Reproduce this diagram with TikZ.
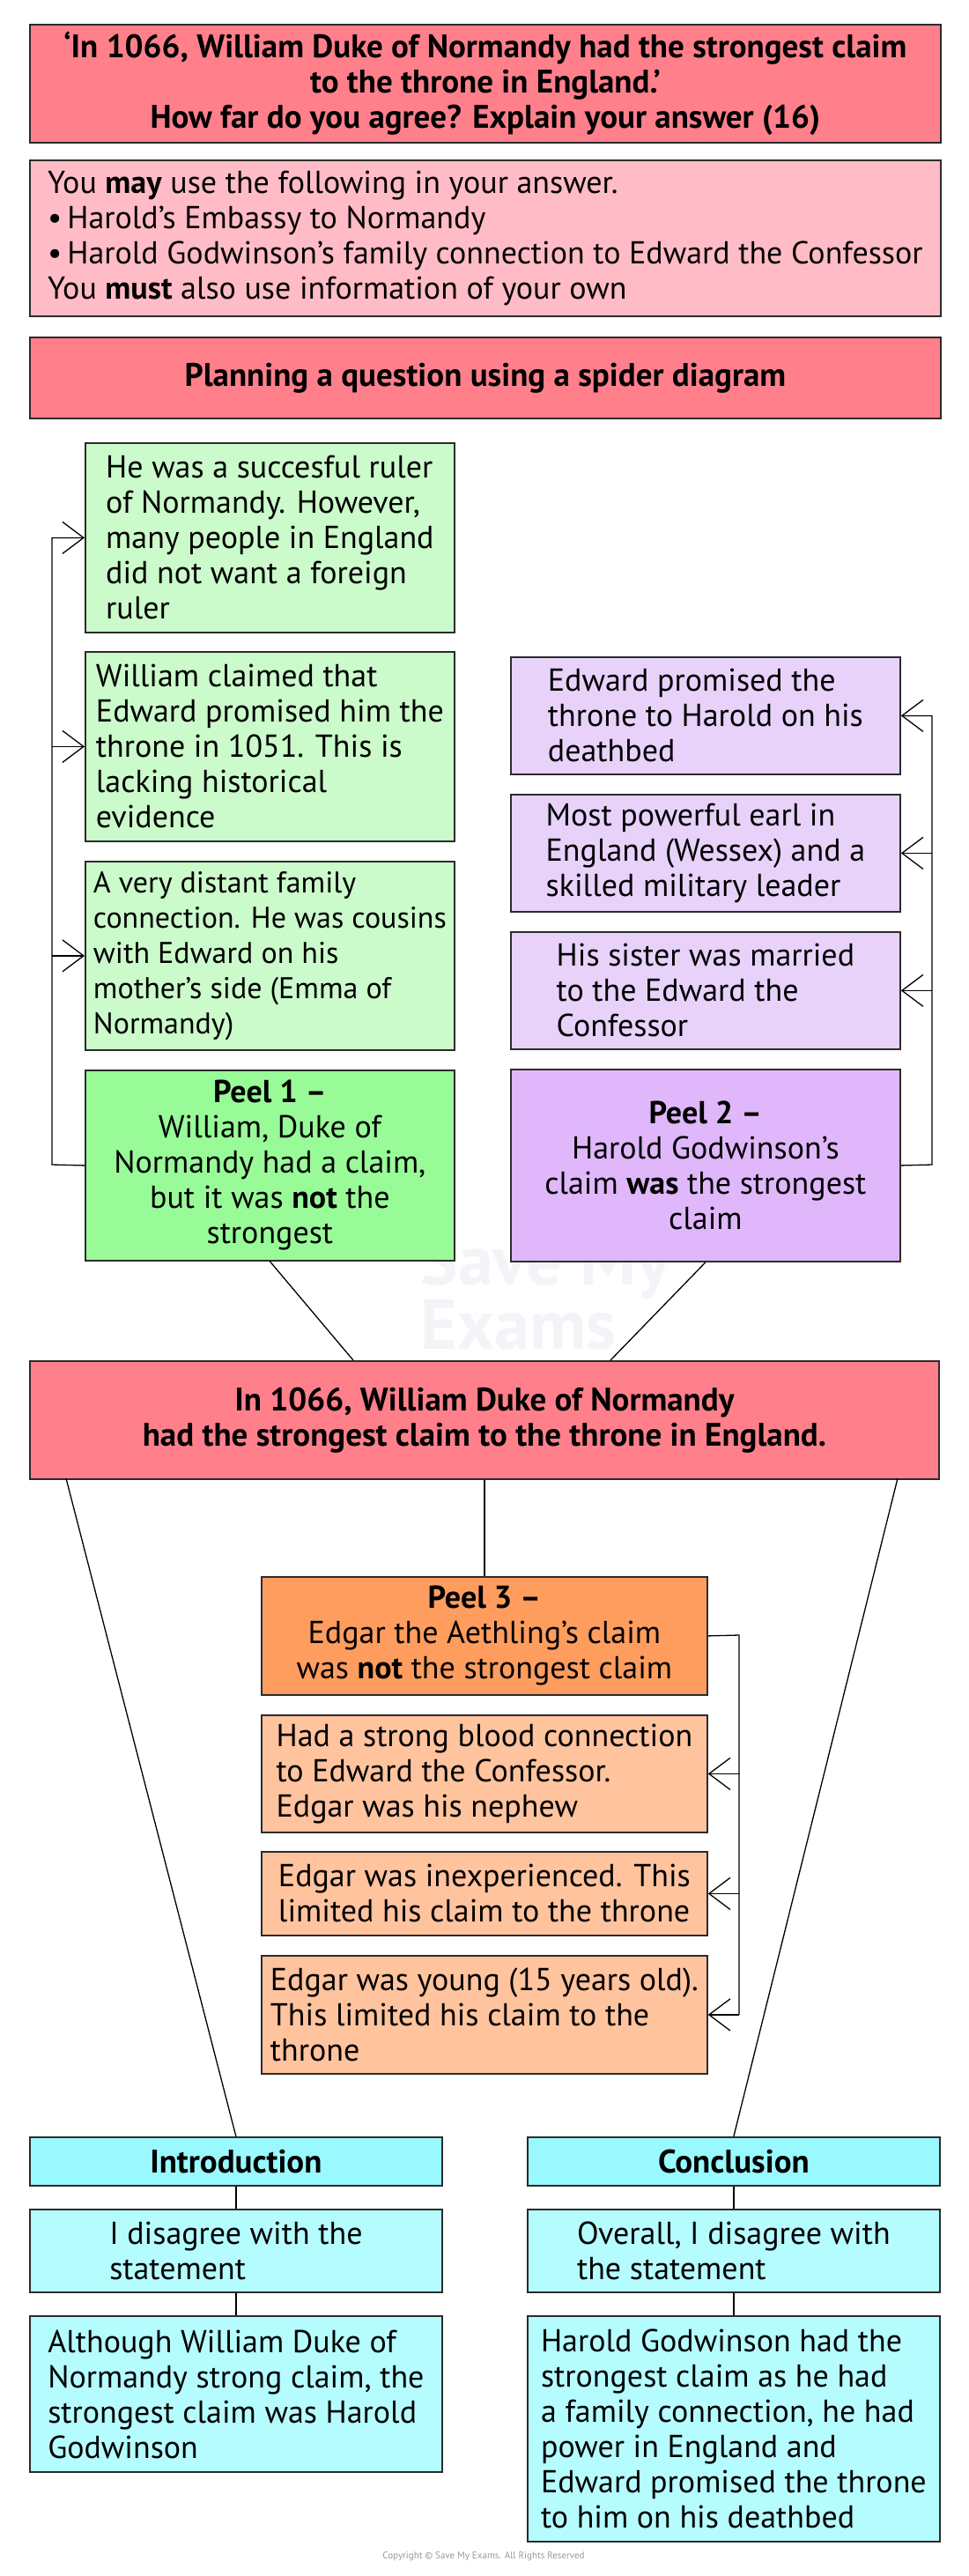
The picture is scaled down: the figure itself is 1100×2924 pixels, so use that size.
\documentclass[tikz,border=0pt]{standalone}
\usepackage{fontspec}
\setmainfont{PT Sans}
\usetikzlibrary{arrows.meta,calc}
\definecolor{pinkA}{HTML}{FF808B}
\definecolor{pinkB}{HTML}{FFBCC6}
\definecolor{greenL}{HTML}{CBFACB}
\definecolor{greenD}{HTML}{98FB98}
\definecolor{purpL}{HTML}{E8D2FA}
\definecolor{purpD}{HTML}{DFB7FA}
\definecolor{orangeD}{HTML}{FF9D5E}
\definecolor{orangeL}{HTML}{FFC39E}
\definecolor{cyanD}{HTML}{99F9FF}
\definecolor{cyanL}{HTML}{B5FCFF}
\definecolor{edge}{HTML}{2B2B2B}
\definecolor{wmark}{HTML}{F3F4F7}
\newcommand\boxfont{\fontsize{36}{40}\selectfont}
\newcommand\headfont{\fontsize{37}{40}\selectfont\bfseries}
\tikzset{
  card/.style={draw=edge, line width=1.8pt, inner sep=0pt, anchor=north west, font=\boxfont, align=left},
  head/.style={card, align=center, font=\headfont},
  link/.style={line width=1.3pt, draw=black},
  arr/.style={link, -{Straight Barb[length=24pt,width=36pt,line width=1.3pt]}},
}
\begin{document}
\begin{tikzpicture}[x=1pt,y=-1pt]
\fill[white] (0,0) rectangle (1100,2924);
\useasboundingbox (0,0) rectangle (1100,2924);

\node[text=wmark, font=\fontsize{80}{66}\selectfont\bfseries, align=left] (wm) at (619,1467) {Save My\\Exams};

\node[head, fill=pinkA, minimum width=1034pt, minimum height=134pt] (title) at (33,27)
 {‘In 1066, William Duke of Normandy had the strongest claim\\ to the throne in England.’\\ How far do you agree? Explain your answer (16)};
\node[card, fill=pinkB, minimum width=1034pt, minimum height=177pt] (may) at (33,181)
 {You \textbf{may} use the following in your answer.\\ \textbullet\,Harold’s Embassy to Normandy\\ \textbullet\,Harold Godwinson’s family connection to Edward the Confessor\\ You \textbf{must} also use information of your own};
\node[head, fill=pinkA, minimum width=1034pt, minimum height=92pt] (plan) at (33,382)
 {Planning a question using a spider diagram};

\node[card, fill=greenL, minimum width=419pt, minimum height=215pt] (g1) at (96,502)
 {He was a succesful ruler\\ of Normandy. However,\\ many people in England\\ did not want a foreign\\ ruler};
\node[card, fill=greenL, minimum width=419pt, minimum height=215pt] (g2) at (96,739)
 {William claimed that\\ Edward promised him the\\ throne in 1051. This is\\ lacking historical\\ evidence};
\node[card, fill=greenL, minimum width=419pt, minimum height=214pt, font=\fontsize{34}{40}\selectfont] (g3) at (96,977)
 {A very distant family\\ connection. He was cousins\\ with Edward on his\\ mother’s side (Emma of\\ Normandy)};
\node[card, fill=purpL, minimum width=442pt, minimum height=133pt] (p1) at (579,745)
 {Edward promised the\\ throne to Harold on his\\ deathbed};
\node[card, fill=purpL, minimum width=442pt, minimum height=133pt] (p2) at (579,901)
 {Most powerful earl in\\ England (Wessex) and a\\ skilled military leader};
\node[card, fill=purpL, minimum width=442pt, minimum height=133pt] (p3) at (579,1057)
 {His sister was married\\ to the Edward the\\ Confessor};
\node[card, fill=greenD, minimum width=419pt, minimum height=216pt, align=center] (peel1) at (96,1214)
 {\textbf{Peel 1 –}\\ William, Duke of\\ Normandy had a claim,\\ but it was \textbf{not} the\\ strongest};
\node[card, fill=purpD, minimum width=442pt, minimum height=218pt, align=center] (peel2) at (579,1213)
 {\textbf{Peel 2 –}\\ Harold Godwinson’s\\ claim \textbf{was} the strongest\\ claim};

\node[head, fill=pinkA, minimum width=1032pt, minimum height=134pt] (main) at (33,1544)
 {In 1066, William Duke of Normandy\\ had the strongest claim to the throne in England.};

\node[card, fill=orangeD, minimum width=506pt, minimum height=134pt, align=center] (peel3) at (296,1789)
 {\textbf{Peel 3 –}\\ Edgar the Aethling’s claim\\ was \textbf{not} the strongest claim};
\node[card, fill=orangeL, minimum width=506pt, minimum height=133pt] (o1) at (296,1946)
 {Had a strong blood connection\\ to Edward the Confessor.\\ Edgar was his nephew};
\node[card, fill=orangeL, minimum width=506pt, minimum height=95pt] (o2) at (296,2101)
 {Edgar was inexperienced. This\\ limited his claim to the throne};
\node[card, fill=orangeL, minimum width=506pt, minimum height=134pt] (o3) at (296,2219)
 {Edgar was young (15 years old).\\ This limited his claim to the\\ throne};

\node[head, fill=cyanD, minimum width=468pt, minimum height=55pt] (ih) at (33,2425) {Introduction};
\node[card, fill=cyanL, minimum width=468pt, minimum height=94pt] (ib) at (33,2507)
 {I disagree with the\\ statement};
\node[card, fill=cyanL, minimum width=468pt, minimum height=177pt] (ic) at (33,2628)
 {Although William Duke of\\ Normandy strong claim, the\\ strongest claim was Harold\\ Godwinson};
\node[head, fill=cyanD, minimum width=468pt, minimum height=55pt] (ch) at (598,2425) {Conclusion};
\node[card, fill=cyanL, minimum width=468pt, minimum height=94pt] (cb) at (598,2507)
 {Overall, I disagree with\\ the statement};
\node[card, fill=cyanL, minimum width=468pt, minimum height=256pt] (cc) at (598,2628)
 {Harold Godwinson had the\\ strongest claim as he had\\ a family connection, he had\\ power in England and\\ Edward promised the throne\\ to him on his deathbed};

% left loop
\coordinate (L) at (59,1322);
\draw[arr] (peel1.west) -- (L) |- (g1.west);
\draw[arr] (L |- g2.west) -- (g2.west);
\draw[arr] (L |- g3.west) -- (g3.west);
% right loop
\coordinate (R) at (1058,1322);
\draw[arr] (peel2.east) -- (R) |- (p1.east);
\draw[arr] (R |- p2.east) -- (p2.east);
\draw[arr] (R |- p3.east) -- (p3.east);
% to main
\coordinate (m1) at (401,1544);
\coordinate (m2) at (693,1544);
\draw[link] (peel1.south) -- (m1);
\draw[link] (peel2.south) -- (m2);
\draw[link] (main.south) -- (peel3.north);
\coordinate (m3) at (75,1678);
\coordinate (m4) at (1019,1678);
\draw[link] (m3) -- (ih.north);
\draw[link] (m4) -- (ch.north);
% peel 3 loop
\coordinate (P) at (839,1856);
\draw[link] (peel3.east) -- (P) -- (P |- o3.east);
\draw[arr] (P |- o1.east) -- (o1.east);
\draw[arr] (P |- o2.east) -- (o2.east);
\draw[arr] (P |- o3.east) -- (o3.east);
% intro / conclusion
\draw[link] (ih.south) -- (ib.north);
\draw[link] (ib.south) -- (ic.north);
\draw[link] (ch.south) -- (cb.north);
\draw[link] (cb.south) -- (cc.north);

\node[font=\fontsize{11}{13}\selectfont, text=black!40] (copy) at (549,2902) {Copyright © Save My Exams. All Rights Reserved};
\end{tikzpicture}
\end{document}
